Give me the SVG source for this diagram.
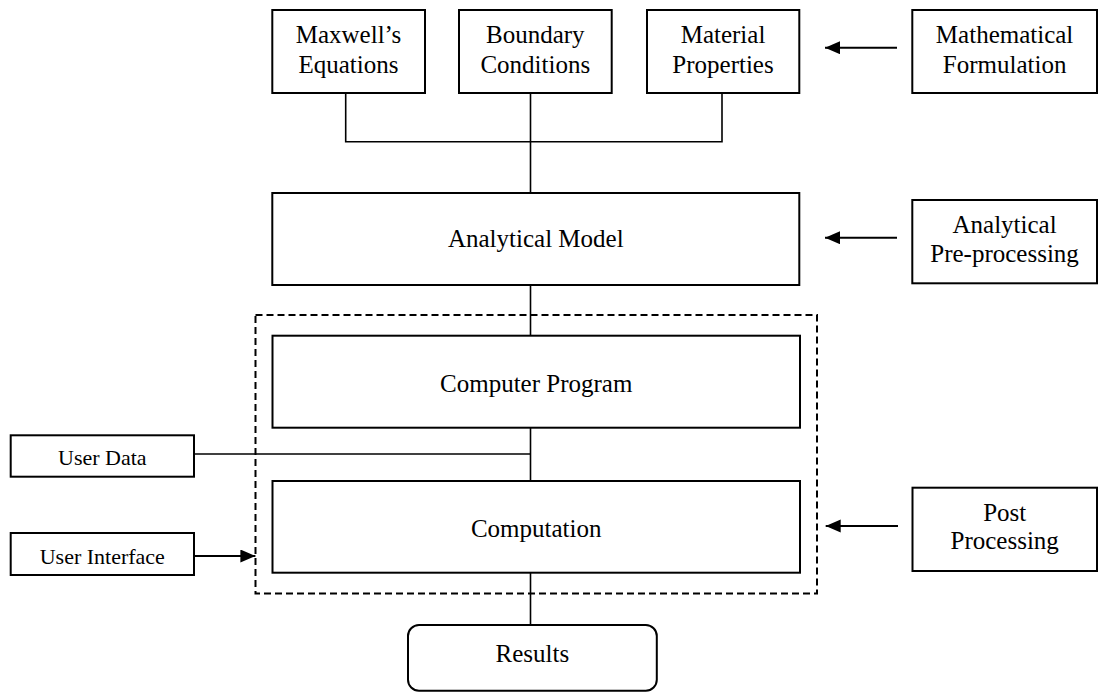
<svg xmlns="http://www.w3.org/2000/svg" width="1099" height="692" viewBox="0 0 1099 692">
<style>
.box{fill:#fff;stroke:#000;stroke-width:2}
.t{font-family:"Liberation Serif","Times New Roman",serif;font-size:25px;fill:#000;text-anchor:middle}
.s{font-family:"Liberation Serif","Times New Roman",serif;font-size:22px;fill:#000;text-anchor:middle}
.c{fill:none;stroke:#000;stroke-width:1.6}
.a{fill:none;stroke:#000;stroke-width:2;marker-end:url(#ah)}
.d{fill:none;stroke:#000;stroke-width:2;stroke-dasharray:7 4}
</style>
<defs>
<marker id="ah" markerUnits="userSpaceOnUse" markerWidth="16" markerHeight="14" refX="15" refY="6.5" orient="auto">
<path d="M0,0 L15,6.5 L0,13 Z" fill="#000"/>
</marker>
</defs>
<rect width="1099" height="692" fill="#fff"/>
<g id="group-program">
<rect class="d" x="255.5" y="315" width="561.5" height="278.5"/>
</g>
<g id="connectors">
<polyline class="c" points="345.7,93 345.7,141.7 722,141.7 722,93"/>
<line class="c" x1="530.5" y1="93" x2="530.5" y2="193"/>
<line class="c" x1="530.5" y1="285" x2="530.5" y2="336"/>
<line class="c" x1="530.5" y1="428" x2="530.5" y2="481"/>
<line class="c" x1="194" y1="454" x2="530.5" y2="454"/>
<line class="c" x1="530.5" y1="573" x2="530.5" y2="625"/>
<line class="a" x1="897" y1="47.7" x2="825" y2="47.7"/>
<line class="a" x1="897" y1="237.7" x2="825" y2="237.7"/>
<line class="a" x1="898" y1="526" x2="825.7" y2="526"/>
<line class="a" x1="194" y1="556" x2="255.4" y2="556"/>
</g>
<g id="maxwell">
<rect class="box" x="272.3" y="10" width="152.7" height="83"/>
<text class="t" x="348.5" y="43">Maxwell’s</text>
<text class="t" x="348.5" y="73">Equations</text>
</g>
<g id="boundary">
<rect class="box" x="459" y="10" width="152.7" height="83"/>
<text class="t" x="535.3" y="43">Boundary</text>
<text class="t" x="535.3" y="73">Conditions</text>
</g>
<g id="material">
<rect class="box" x="647" y="10" width="152.3" height="83"/>
<text class="t" x="723" y="43">Material</text>
<text class="t" x="723" y="73">Properties</text>
</g>
<g id="math-formulation">
<rect class="box" x="912.3" y="10" width="184.7" height="83"/>
<text class="t" x="1004.6" y="43">Mathematical</text>
<text class="t" x="1004.6" y="73">Formulation</text>
</g>
<g id="analytical-model">
<rect class="box" x="272.3" y="193" width="527" height="92"/>
<text class="t" x="535.8" y="247">Analytical Model</text>
</g>
<g id="analytical-pre">
<rect class="box" x="912.3" y="200" width="184.7" height="83.3"/>
<text class="t" x="1004.6" y="233">Analytical</text>
<text class="t" x="1004.6" y="262">Pre-processing</text>
</g>
<g id="computer-program">
<rect class="box" x="272.5" y="335.7" width="527.5" height="92"/>
<text class="t" x="536.2" y="392">Computer Program</text>
</g>
<g id="user-data">
<rect class="box" x="10.7" y="435.3" width="183.3" height="41.4"/>
<text class="s" x="102.3" y="465">User Data</text>
</g>
<g id="computation">
<rect class="box" x="272.5" y="481" width="527.5" height="91.7"/>
<text class="t" x="536.2" y="537">Computation</text>
</g>
<g id="user-interface">
<rect class="box" x="10.7" y="533" width="183.3" height="42"/>
<text class="s" x="102.3" y="564">User Interface</text>
</g>
<g id="post-processing">
<rect class="box" x="912.5" y="487.7" width="184.5" height="83.3"/>
<text class="t" x="1004.7" y="520.5">Post</text>
<text class="t" x="1004.7" y="549.3">Processing</text>
</g>
<g id="results">
<rect class="box" x="408" y="625" width="248.8" height="65.7" rx="11" ry="11"/>
<text class="t" x="532.4" y="662">Results</text>
</g>
</svg>
